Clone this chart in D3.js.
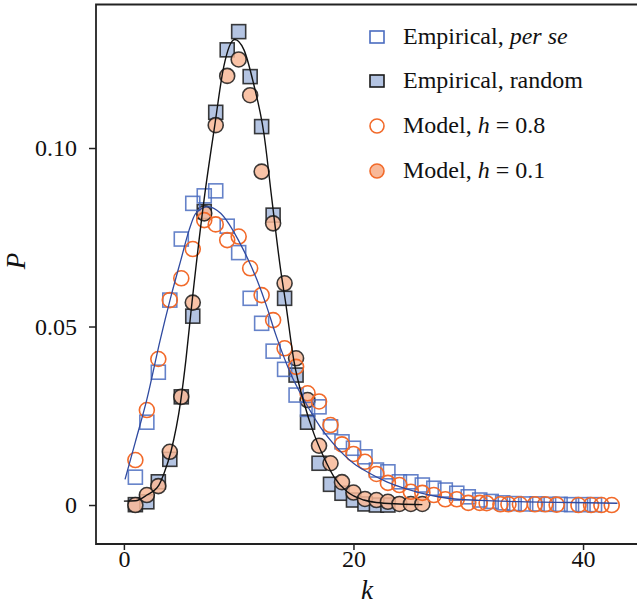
<!DOCTYPE html>
<html><head><meta charset="utf-8">
<script src="https://cdn.jsdelivr.net/npm/d3@7"></script>
<style>
body{margin:0;background:#fff;}
svg text{font-family:"Liberation Serif","Times New Roman",serif;fill:#111;}
</style></head>
<body><svg id="c" width="637" height="607"></svg>
<script>
// ---- data ----
const perSeK = d3.range(1, 42);
const perSeP = [0.0078,0.0232,0.0372,0.0574,0.0745,0.0845,0.0866,0.0880,0.0781,0.0707,
  0.0579,0.0509,0.0431,0.0380,0.0308,0.0268,0.0275,0.0219,0.0177,0.0159,
  0.0135,0.0098,0.0093,0.0065,0.0065,0.0056,0.0047,0.0042,0.0033,0.0023,
  0.0014,0.0010,0.0006,0.0004,0.0003,0.0003,0.0002,0.0002,0.0001,0.0001,0.0001];
const randomK = d3.range(1, 24);
const randomP = [0.0001,0.0009,0.0065,0.0128,0.0303,0.0529,0.0822,0.1100,0.1275,0.1326,
  0.1200,0.1060,0.0812,0.0579,0.0364,0.0232,0.0117,0.0058,0.0033,0.0014,
  0.0003,0.0000,0.0000];
const modelHighK = [1,2,3,4,5,6,7,8,9,10,11,12,13,14,15,16,17,18,19,20,21,22,23,24,25,26,27,28,29,30,31,
  31.6,32.8,33.5,34.5,35.8,36.7,37.7,39.6,40.7,41.6,42.5];
const modelHighP = [0.0126,0.0266,0.0409,0.0574,0.0635,0.0717,0.0798,0.0786,0.0742,0.0752,
  0.0663,0.0588,0.0518,0.0439,0.0387,0.0313,0.0290,0.0224,0.0170,0.0143,
  0.0121,0.0087,0.0062,0.0056,0.0037,0.0034,0.0028,0.0016,0.0016,0.0006,0.0006,
  0.0005,0.0002,0.0002,0.0002,0.0002,0.0002,0.0001,0.0000,0.0000,0.0000,0.0000];
const modelLowK = d3.range(1, 27);
const modelLowP = [0.0000,0.0028,0.0053,0.0149,0.0303,0.0567,0.0817,0.1064,0.1202,0.1248,
  0.1148,0.0934,0.0789,0.0621,0.0411,0.0294,0.0166,0.0117,0.0064,0.0035,
  0.0017,0.0014,0.0009,0.0003,0.0003,0.0003];
const fitBlueK = [0.1,1,2,3.16,4.09,4.96,5.68,6.26,7.33,8.43,10.2,11.6,12.4,13.2,14.5,15.7,17.1,18.5,20,21.4,22.9,24.4,25.8,28.2,31,35,39,43];
const fitBlueP = [0.0072,0.0177,0.0296,0.0462,0.0583,0.0686,0.0770,0.0817,0.0836,0.0817,0.0728,0.0630,0.0560,0.0480,0.0370,0.0294,0.0219,0.0163,0.0117,0.0089,0.0065,0.0047,0.0034,0.0019,0.0013,0.0009,0.0007,0.0005];
const fitBlackK = [0,1,2,3.05,3.5,4.1,4.96,5.4,5.83,6.98,7.9,8.7,9.65,10.46,11.3,12.2,12.9,13.65,14.1,14.8,15.7,16.55,17.4,18.3,19.45,20.9,22,24,26];
const fitBlackP = [0.0011,0.0012,0.0028,0.0056,0.0089,0.0150,0.0294,0.0406,0.0537,0.0854,0.1060,0.1228,0.1304,0.1275,0.1180,0.1040,0.0854,0.0660,0.0565,0.0406,0.0285,0.0200,0.0135,0.0079,0.0037,0.0014,0.0007,0.0003,0.0001];
const xTicks = [0, 20, 40];
const yTicks = [0, 0.05, 0.10];
const yTickLabels = ["0", "0.05", "0.10"];

// ---- layout ----
const svg = d3.select("#c");
const L = 96, R = 637, T = 4.5, B = 544;
const x = d3.scaleLinear().domain([-2.43, 44.7]).range([L, R]);
const y = d3.scaleLinear().domain([-0.01092, 0.1402]).range([B, T]);

const blue = "#4a6cc0", orange = "#f26a2a";
const sqFill = "#b4c4e2", circFill = "#f8b898";
const S = 14, Rr = 7.5;

function zip(k, p){ return k.map((v,i)=>({k:v, p:p[i]})); }

const g = svg.append("g");
g.selectAll("rect.rnd").data(zip(randomK, randomP)).join("rect")
  .attr("x", d=>x(d.k)-S/2).attr("y", d=>y(d.p)-S/2).attr("width", S).attr("height", S)
  .attr("fill", sqFill).attr("stroke", "#1a1a1a").attr("stroke-width", 1.6).attr("stroke-opacity",0.85);
g.selectAll("circle.low").data(zip(modelLowK, modelLowP)).join("circle")
  .attr("cx", d=>x(d.k)).attr("cy", d=>y(d.p)).attr("r", Rr)
  .attr("fill", circFill).attr("fill-opacity", 0.85).attr("stroke", "#1a1a1a").attr("stroke-width", 1.6).attr("stroke-opacity",0.85);
g.selectAll("rect.ps").data(zip(perSeK, perSeP)).join("rect")
  .attr("x", d=>x(d.k)-S/2).attr("y", d=>y(d.p)-S/2).attr("width", S).attr("height", S)
  .attr("fill", "none").attr("stroke", blue).attr("stroke-width", 1.6).attr("stroke-opacity",0.85);
g.selectAll("circle.high").data(zip(modelHighK, modelHighP)).join("circle")
  .attr("cx", d=>x(d.k)).attr("cy", d=>y(d.p)).attr("r", Rr)
  .attr("fill", "none").attr("stroke", orange).attr("stroke-width", 1.6);

const line = d3.line().x(d=>x(d.k)).y(d=>y(d.p)).curve(d3.curveMonotoneX);
g.append("path").datum(zip(fitBlueK, fitBlueP)).attr("d", line)
  .attr("fill","none").attr("stroke","#2f4aa0").attr("stroke-width",1.3);
g.append("path").datum(zip(fitBlackK, fitBlackP)).attr("d", line)
  .attr("fill","none").attr("stroke","#111").attr("stroke-width",1.4);

svg.append("path").attr("d", `M${R+2},${T}H${L}V${B}H${R+2}`)
  .attr("fill","none").attr("stroke","#222").attr("stroke-width",1.8);

const xAxis = d3.axisBottom(x).tickValues(xTicks).tickSize(6).tickPadding(0).tickFormat(d3.format("d"));
const xa = svg.append("g").attr("transform", `translate(0,${B})`).call(xAxis);
xa.select(".domain").remove();
xa.selectAll("line").attr("stroke","#222").attr("stroke-width",1.5);
xa.selectAll("text").attr("font-size", 24).attr("font-family","Liberation Serif").attr("fill","#111");

const yAxis = d3.axisLeft(y).tickValues(yTicks).tickSize(7).tickPadding(12).tickFormat((d,i)=>yTickLabels[i]);
const ya = svg.append("g").attr("transform", `translate(${L},0)`).call(yAxis);
ya.select(".domain").remove();
ya.selectAll("line").attr("stroke","#222").attr("stroke-width",1.5);
ya.selectAll("text").attr("font-size", 24).attr("font-family","Liberation Serif").attr("fill","#111");

svg.append("text").attr("x", 367).attr("y", 599).attr("text-anchor","middle")
  .attr("font-size", 27).attr("font-style","italic").text("k");
svg.append("text").attr("transform","translate(25,261) rotate(-90)").attr("text-anchor","middle")
  .attr("font-size", 27).attr("font-style","italic").text("P");

const lg = svg.append("g");
const rows = [37, 81, 126, 171];
const lx = 377, tx = 403;
lg.append("rect").attr("x", lx-7).attr("y", rows[0]-6).attr("width",14).attr("height",12)
  .attr("fill","none").attr("stroke",blue).attr("stroke-width",1.6);
lg.append("rect").attr("x", lx-7).attr("y", rows[1]-6).attr("width",14).attr("height",12)
  .attr("fill",sqFill).attr("stroke","#1a1a1a").attr("stroke-width",1.6);
lg.append("circle").attr("cx", lx).attr("cy", rows[2]).attr("r",7)
  .attr("fill","none").attr("stroke",orange).attr("stroke-width",1.6);
lg.append("circle").attr("cx", lx).attr("cy", rows[3]).attr("r",7)
  .attr("fill",circFill).attr("stroke",orange).attr("stroke-width",1.6);
const fs = 24;
let t = lg.append("text").attr("x",tx).attr("y",rows[0]+7).attr("font-size",fs);
t.append("tspan").text("Empirical, ");
t.append("tspan").attr("font-style","italic").text("per se");
lg.append("text").attr("x",tx).attr("y",rows[1]+7).attr("font-size",fs).text("Empirical, random");
t = lg.append("text").attr("x",tx).attr("y",rows[2]+7).attr("font-size",fs);
t.append("tspan").text("Model, ");
t.append("tspan").attr("font-style","italic").text("h");
t.append("tspan").text(" = 0.8");
t = lg.append("text").attr("x",tx).attr("y",rows[3]+7).attr("font-size",fs);
t.append("tspan").text("Model, ");
t.append("tspan").attr("font-style","italic").text("h");
t.append("tspan").text(" = 0.1");
</script></body></html>
